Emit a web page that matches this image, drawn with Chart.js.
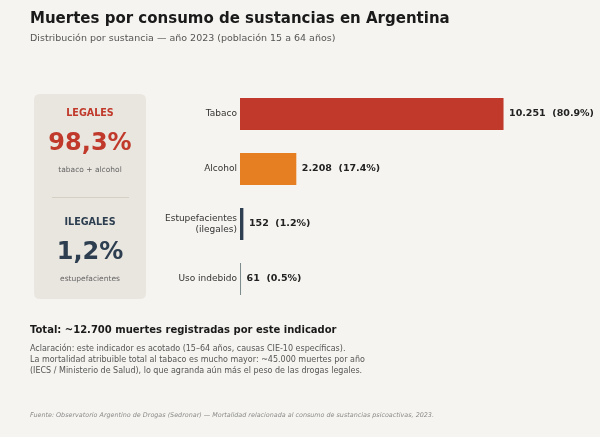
<!DOCTYPE html>
<html>
<head>
<meta charset="utf-8">
<script src="https://cdn.jsdelivr.net/npm/chart.js@4.4.1/dist/chart.umd.min.js"></script>
<style>
    html, body { margin: 0; padding: 0; background: #f5f4f0; }
    #wrap { position: relative; width: 600px; height: 437px; }
</style>
</head>
<body>
<div id="wrap"><canvas id="chart" width="600" height="437"></canvas></div>
<script>
// Data
const categories = ['Tabaco', 'Alcohol', ['Estupefacientes', '(ilegales)'], 'Uso indebido'];
const deaths = [10251, 2208, 152, 61];
const valueLabels = ['10.251', '2.208', '152', '61'];
const pctLabels = ['80.9%', '17.4%', '1.2%', '0.5%'];
const barColors = ['#c0392b', '#e67e22', '#2c3e50', '#7f8c8d'];

const FONT = "'DejaVu Sans', sans-serif";
const colors = {
    bg: '#f5f4f0',
    card: '#e9e5df',
    sep: '#d6d0c4',
    title: '#1a1a1a',
    sub: '#555555',
    legal: '#c0392b',
    illegal: '#2c3e50',
    muted: '#666666'
};

// Helpers
function text(ctx, str, x, y, font, color, align) {
    ctx.font = font;
    ctx.fillStyle = color;
    ctx.textAlign = align || 'left';
    ctx.textBaseline = 'middle';
    ctx.fillText(str, x, y);
}

function roundRect(ctx, x, y, w, h, r) {
    ctx.beginPath();
    ctx.moveTo(x + r, y);
    ctx.lineTo(x + w - r, y);
    ctx.quadraticCurveTo(x + w, y, x + w, y + r);
    ctx.lineTo(x + w, y + h - r);
    ctx.quadraticCurveTo(x + w, y + h, x + w - r, y + h);
    ctx.lineTo(x + r, y + h);
    ctx.quadraticCurveTo(x, y + h, x, y + h - r);
    ctx.lineTo(x, y + r);
    ctx.quadraticCurveTo(x, y, x + r, y);
    ctx.closePath();
}

// Background, card and text around the chart
const decorPlugin = {
    id: 'decor',
    beforeDraw(chart) {
        const ctx = chart.ctx;
        ctx.save();
        ctx.fillStyle = colors.bg;
        ctx.fillRect(0, 0, chart.width, chart.height);

        // summary card
        ctx.fillStyle = colors.card;
        roundRect(ctx, 34, 94, 112, 205, 6);
        ctx.fill();
        ctx.strokeStyle = colors.sep;
        ctx.lineWidth = 1;
        ctx.beginPath();
        ctx.moveTo(52, 197.5);
        ctx.lineTo(129, 197.5);
        ctx.stroke();

        text(ctx, 'LEGALES', 90, 113, `bold 9.6px ${FONT}`, colors.legal, 'center');
        text(ctx, '98,3%', 90, 143.5, `bold 24px ${FONT}`, colors.legal, 'center');
        text(ctx, 'tabaco + alcohol', 90, 170, `7.5px ${FONT}`, colors.muted, 'center');
        text(ctx, 'ILEGALES', 90, 222, `bold 9.6px ${FONT}`, colors.illegal, 'center');
        text(ctx, '1,2%', 90, 252.5, `bold 24px ${FONT}`, colors.illegal, 'center');
        text(ctx, 'estupefacientes', 90, 279, `7.5px ${FONT}`, colors.muted, 'center');

        // titles
        text(ctx, 'Muertes por consumo de sustancias en Argentina', 30, 19, `bold 15px ${FONT}`, colors.title);
        text(ctx, 'Distribución por sustancia — año 2023 (población 15 a 64 años)', 30, 38.5, `9.5px ${FONT}`, colors.sub);

        // notes
        text(ctx, 'Total: ~12.700 muertes registradas por este indicador', 30, 330.5, `bold 10px ${FONT}`, colors.title);
        const notes = [
            'Aclaración: este indicador es acotado (15–64 años, causas CIE-10 específicas).',
            'La mortalidad atribuible total al tabaco es mucho mayor: ~45.000 muertes por año',
            '(IECS / Ministerio de Salud), lo que agranda aún más el peso de las drogas legales.'
        ];
        notes.forEach((line, i) => {
            text(ctx, line, 30, 349.3 + i * 10.7, `8px ${FONT}`, colors.sub);
        });
        text(ctx, 'Fuente: Observatorio Argentino de Drogas (Sedronar) — Mortalidad relacionada al consumo de sustancias psicoactivas, 2023.',
            30, 415, `italic 6.4px ${FONT}`, '#8a8a8a');
        ctx.restore();
    },
    afterDatasetsDraw(chart) {
        const ctx = chart.ctx;
        const meta = chart.getDatasetMeta(0);
        ctx.save();
        meta.data.forEach((bar, i) => {
            text(ctx, `${valueLabels[i]}  (${pctLabels[i]})`, bar.x + 5, bar.y,
                `bold 9.5px ${FONT}`, '#222222');
        });
        ctx.restore();
    }
};

const ctx = document.getElementById('chart').getContext('2d');
const chart = new Chart(ctx, {
    type: 'bar',
    data: {
        labels: categories,
        datasets: [{
            data: deaths,
            backgroundColor: barColors,
            borderColor: 'rgba(255,255,255,0.5)',
            borderWidth: 0.5,
            barPercentage: 1,
            categoryPercentage: 0.6
        }]
    },
    options: {
        indexAxis: 'y',
        responsive: false,
        animation: false,
        events: [],
        layout: {
            padding: { top: 86.5, bottom: 130.5, left: 0, right: 20 }
        },
        scales: {
            x: {
                display: false,
                min: 0,
                max: 13200
            },
            y: {
                afterFit(scale) { scale.width = 240; },
                grid: { display: false, drawTicks: false },
                border: { display: false },
                ticks: {
                    color: '#333333',
                    padding: 3,
                    font: { family: FONT, size: 9, lineHeight: 1.15 }
                }
            }
        },
        plugins: {
            legend: { display: false },
            tooltip: { enabled: false }
        }
    },
    plugins: [decorPlugin]
});
</script>
</body>
</html>
